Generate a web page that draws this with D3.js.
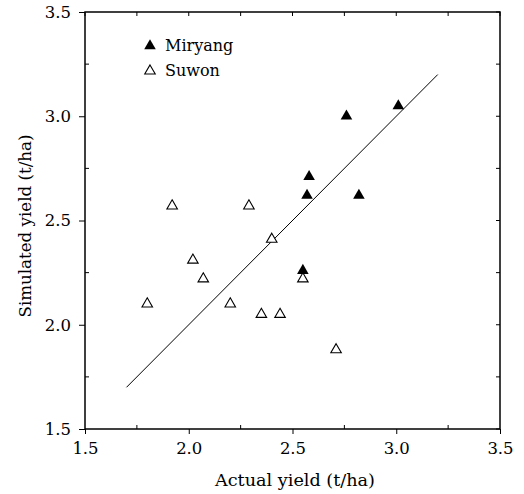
<!DOCTYPE html>
<html><head><meta charset="utf-8">
<script src="https://cdn.jsdelivr.net/npm/d3@7"></script>
<style>body{margin:0;background:#fff}</style>
</head><body>
<script>
const miryangX = [2.55, 2.76, 3.01, 2.58, 2.57, 2.82];
const miryangY = [2.26, 3.00, 3.05, 2.71, 2.62, 2.62];
const suwonX = [1.80, 2.02, 2.07, 2.20, 1.92, 2.29, 2.40, 2.35, 2.44, 2.55, 2.71];
const suwonY = [2.10, 2.31, 2.22, 2.10, 2.57, 2.57, 2.41, 2.05, 2.05, 2.22, 1.88];
const lineX = [1.7, 3.2];
const lineY = [1.7, 3.2];
const majorTicks = [1.5, 2.0, 2.5, 3.0, 3.5];
const minorTicks = [1.75, 2.25, 2.75, 3.25];
const legendLabels = ["Miryang", "Suwon"];

const W = 524, H = 494;
const svg = d3.select("body").append("svg").attr("width", W).attr("height", H);
const x = d3.scaleLinear().domain([1.5, 3.5]).range([85, 500]);
const y = d3.scaleLinear().domain([1.5, 3.5]).range([429, 12]);
const font = "DejaVu Serif";

// frame
svg.append("rect").attr("x", 85).attr("y", 12).attr("width", 415).attr("height", 417)
  .attr("fill", "none").attr("stroke", "#000").attr("stroke-width", 1.5);

// bottom axis
const xa = svg.append("g").attr("transform", "translate(0,429)")
  .call(d3.axisBottom(x).tickValues(majorTicks).tickFormat(d3.format(".1f")).tickSize(5).tickPadding(8));
xa.select(".domain").remove();
xa.selectAll("text").attr("font-family", font).attr("font-size", 16.5).attr("fill", "#000");
xa.selectAll("line").attr("stroke", "#000");
svg.append("g").selectAll("line").data(minorTicks).join("line")
  .attr("x1", d => x(d)).attr("x2", d => x(d)).attr("y1", 429).attr("y2", 425).attr("stroke", "#000");

// left axis
const ya = svg.append("g").attr("transform", "translate(85,0)")
  .call(d3.axisLeft(y).tickValues(majorTicks).tickFormat(d3.format(".1f")).tickSize(6).tickPadding(8));
ya.select(".domain").remove();
ya.selectAll("text").attr("font-family", font).attr("font-size", 16.5).attr("fill", "#000");
ya.selectAll("line").attr("stroke", "#000");
svg.append("g").selectAll("line").data(minorTicks).join("line")
  .attr("x1", 85).attr("x2", 89).attr("y1", d => y(d)).attr("y2", d => y(d)).attr("stroke", "#000");
// right axis ticks
svg.append("g").selectAll("line").data(majorTicks.concat(minorTicks)).join("line")
  .attr("x1", 500).attr("x2", 496).attr("y1", d => y(d)).attr("y2", d => y(d)).attr("stroke", "#000");
// top axis ticks
svg.append("g").selectAll("line").data(majorTicks.concat(minorTicks)).join("line")
  .attr("x1", d => x(d)).attr("x2", d => x(d)).attr("y1", 12).attr("y2", 16).attr("stroke", "#000");

// titles
svg.append("text").attr("x", 295).attr("y", 486).attr("text-anchor", "middle")
  .attr("font-family", font).attr("font-size", 17)
  .attr("textLength", 160).attr("lengthAdjust", "spacingAndGlyphs")
  .text("Actual yield (t/ha)");
svg.append("text").attr("transform", "translate(31,226) rotate(-90)")
  .attr("text-anchor", "middle").attr("font-family", font).attr("font-size", 17)
  .attr("textLength", 183).attr("lengthAdjust", "spacingAndGlyphs")
  .text("Simulated yield (t/ha)");

// 1:1 line
svg.append("line").attr("x1", x(lineX[0])).attr("y1", y(lineY[0]))
  .attr("x2", x(lineX[1])).attr("y2", y(lineY[1])).attr("stroke", "#000").attr("stroke-width", 1);

const tri = d3.symbol().type(d3.symbolTriangle);
const sw = suwonX.map((v, i) => [v, suwonY[i]]);
const my = miryangX.map((v, i) => [v, miryangY[i]]);
svg.append("g").selectAll("path").data(sw).join("path")
  .attr("d", tri.size(48)()).attr("transform", d => `translate(${x(d[0])},${y(d[1])})`)
  .attr("fill", "#fff").attr("stroke", "#000").attr("stroke-width", 1.1);
svg.append("g").selectAll("path").data(my).join("path")
  .attr("d", tri.size(58)()).attr("transform", d => `translate(${x(d[0])},${y(d[1])})`)
  .attr("fill", "#000");

// legend
const lg = svg.append("g");
lg.append("path").attr("d", tri.size(58)()).attr("transform", "translate(150,46)").attr("fill", "#000");
lg.append("path").attr("d", tri.size(48)()).attr("transform", "translate(150,71)")
  .attr("fill", "#fff").attr("stroke", "#000").attr("stroke-width", 1.1);
lg.append("text").attr("x", 165).attr("y", 51).attr("font-family", font).attr("font-size", 16).text(legendLabels[0]);
lg.append("text").attr("x", 165).attr("y", 76).attr("font-family", font).attr("font-size", 16).text(legendLabels[1]);
</script>
</body></html>
